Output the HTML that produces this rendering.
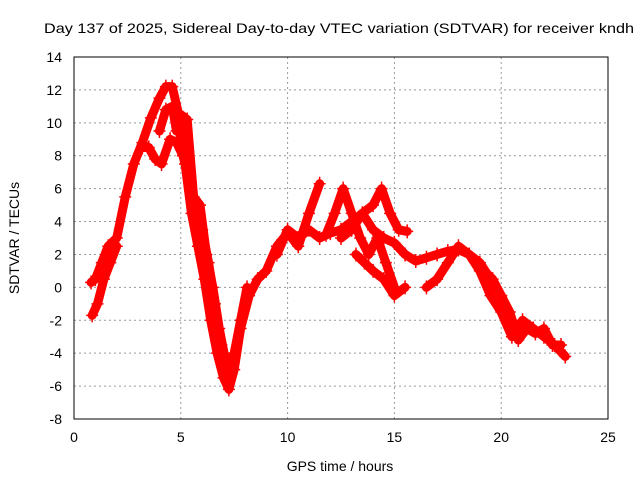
<!DOCTYPE html>
<html><head><meta charset="utf-8"><style>
body{margin:0;background:#fff;}
svg{display:block;font-family:"Liberation Sans",sans-serif;}
</style></head><body>
<svg id="chart" width="640" height="480">
<text x="339" y="33" font-size="14" text-anchor="middle" textLength="590" lengthAdjust="spacingAndGlyphs">Day 137 of 2025, Sidereal Day-to-day VTEC variation (SDTVAR) for receiver kndh</text>
<text x="340" y="471" font-size="14" text-anchor="middle">GPS time / hours</text>
<text transform="translate(19,238) rotate(-90)" font-size="14" text-anchor="middle">SDTVAR / TECUs</text>
<g id="grid"></g><g id="ticks"></g><g id="marks"></g>
<rect x="74" y="57" width="534" height="362" fill="none" stroke="#000" stroke-width="1"/>
</svg>
<script>
const xTicks=[0,5,10,15,20,25];
const yTicks=[-8,-6,-4,-2,0,2,4,6,8,10,12,14];
const arcA_t=[0.8,1.0,1.3,1.6,2.0,2.4,2.8,3.2,3.6,4.0,4.3,4.6,4.9,5.2,5.5,5.8,6.1,6.4,6.7,7.0,7.25,7.5,7.8,8.2,8.6,9.0,9.5,10.0];
const arcA_v=[0.3,0.5,1.5,2.5,3.0,5.5,7.5,8.8,10.3,11.5,12.2,12.2,10.5,7.5,4.5,2.5,0.5,-2,-4,-5.5,-6.2,-5,-2.5,-0.5,0.5,1,2.5,3.3];
const arcB_t=[0.85,1.1,1.4,1.7,2.0];
const arcB_v=[-1.7,-1,0.5,1.5,2.5];
const arcC_t=[3.2,3.5,3.8,4.1,4.5,4.8,5.1,5.4,5.7,6.0,6.3,6.6,6.9,7.2,7.5,7.8,8.1];
const arcC_v=[8.5,8.5,7.8,7.5,9,8.8,8,6.5,5,3.5,1.5,-1,-3.5,-5,-4,-2,0];
const arcD_t=[4.0,4.3,4.6,4.8,5.0,5.3,5.6,5.9,6.2,6.5,6.8,7.1];
const arcD_v=[9.5,10.8,11,9.5,10.5,10.2,5.5,5,2,0,-2.5,-4.5];
const arcM_t=[9.5,10,10.5,11,11.5,12,12.5,13,13.5,14,14.5,15,15.5,16,16.5,17,17.5,18,18.5,19,19.5,20,20.5,21,21.5,22,22.5,23];
const arcM_v=[2,3.5,3,3.5,3,3.3,3.5,4,4.5,3.5,3,2.7,2,1.6,1.8,2,2.2,2.3,2,1,-0.5,-1.5,-3.0,-2.0,-2.5,-3,-3.5,-4.2];
const arcE_t=[10.2,10.5,11,11.5];
const arcE_v=[3,2.5,4.5,6.3];
const arcF_t=[11.8,12.2,12.6,13,13.4,13.8,14.2,14.6,15.0];
const arcF_v=[3.2,4.5,6,4.5,3,2,3,1.5,0];
const arcG_t=[12.5,13,13.5,14,14.4,14.8,15.2,15.6];
const arcG_v=[3.0,3.5,4.5,5,6,4.5,3.5,3.4];
const arcH_t=[13.2,13.6,14,14.5,15,15.5];
const arcH_v=[2,1.5,1,0.5,-0.5,0];
const arcI_t=[16.5,17,17.5,18,18.5,19,19.5,20];
const arcI_v=[0,0.5,1.5,2.5,2,1.5,0.5,-0.5];
const arcJ_t=[19.2,19.6,20,20.4,20.8,21.2,21.6,22,22.4,22.8];
const arcJ_v=[1,0.5,-0.5,-1.5,-3.2,-2.5,-2.8,-2.5,-3.5,-3.5];
const series=[[arcA_t,arcA_v],[arcB_t,arcB_v],[arcC_t,arcC_v],[arcD_t,arcD_v],[arcM_t,arcM_v],[arcE_t,arcE_v],[arcF_t,arcF_v],[arcG_t,arcG_v],[arcH_t,arcH_v],[arcI_t,arcI_v],[arcJ_t,arcJ_v]];
const NS="http://www.w3.org/2000/svg";
function xs(t){return 74+t*(534/25);}
function ys(v){return 419-(v+8)*(362/22);}
const grid=document.getElementById('grid'),ticks=document.getElementById('ticks'),marks=document.getElementById('marks');
xTicks.forEach(t=>{
  const x=xs(t);
  if(t>0&&t<25){const l=document.createElementNS(NS,'line');
  l.setAttribute('x1',x);l.setAttribute('x2',x);l.setAttribute('y1',57);l.setAttribute('y2',419);
  l.setAttribute('stroke','#999');l.setAttribute('stroke-dasharray','2,3');
  
  
  grid.appendChild(l);}
  const tx=document.createElementNS(NS,'text');
  tx.setAttribute('x',x);tx.setAttribute('y',442);tx.setAttribute('font-size','14');tx.setAttribute('text-anchor','middle');
  tx.textContent=t;
  
  
  ticks.appendChild(tx);
});
yTicks.forEach(v=>{
  const y=ys(v);
  if(v>-8&&v<14){const l=document.createElementNS(NS,'line');
  l.setAttribute('x1',74);l.setAttribute('x2',608);l.setAttribute('y1',y);l.setAttribute('y2',y);
  l.setAttribute('stroke','#999');l.setAttribute('stroke-dasharray','2,3');
  
  
  grid.appendChild(l);}
  const tx=document.createElementNS(NS,'text');
  tx.setAttribute('x',62);tx.setAttribute('y',y+5);tx.setAttribute('font-size','14');tx.setAttribute('text-anchor','end');
  tx.textContent=v;
  
  
  ticks.appendChild(tx);
});
series.forEach(s=>{
  const [T,V]=s;
  const pts=T.map((t,i)=>xs(t)+','+ys(V[i])).join(' ');
  const p=document.createElementNS(NS,'polyline');
  p.setAttribute('points',pts);p.setAttribute('fill','none');p.setAttribute('stroke','#f00');
  p.setAttribute('stroke-width','9');p.setAttribute('stroke-linejoin','round');p.setAttribute('stroke-linecap','round');
  
  
  marks.appendChild(p);
  T.forEach((t,i)=>{
    const x=xs(t),y=ys(V[i]);
    const m=document.createElementNS(NS,'path');
    m.setAttribute('d',`M${x-6},${y}H${x+6}M${x},${y-7}V${y+7}`);
    m.setAttribute('stroke','#f00');m.setAttribute('stroke-width','1.5');
    
    
    marks.appendChild(m);
  });
});
</script>
</body></html>
